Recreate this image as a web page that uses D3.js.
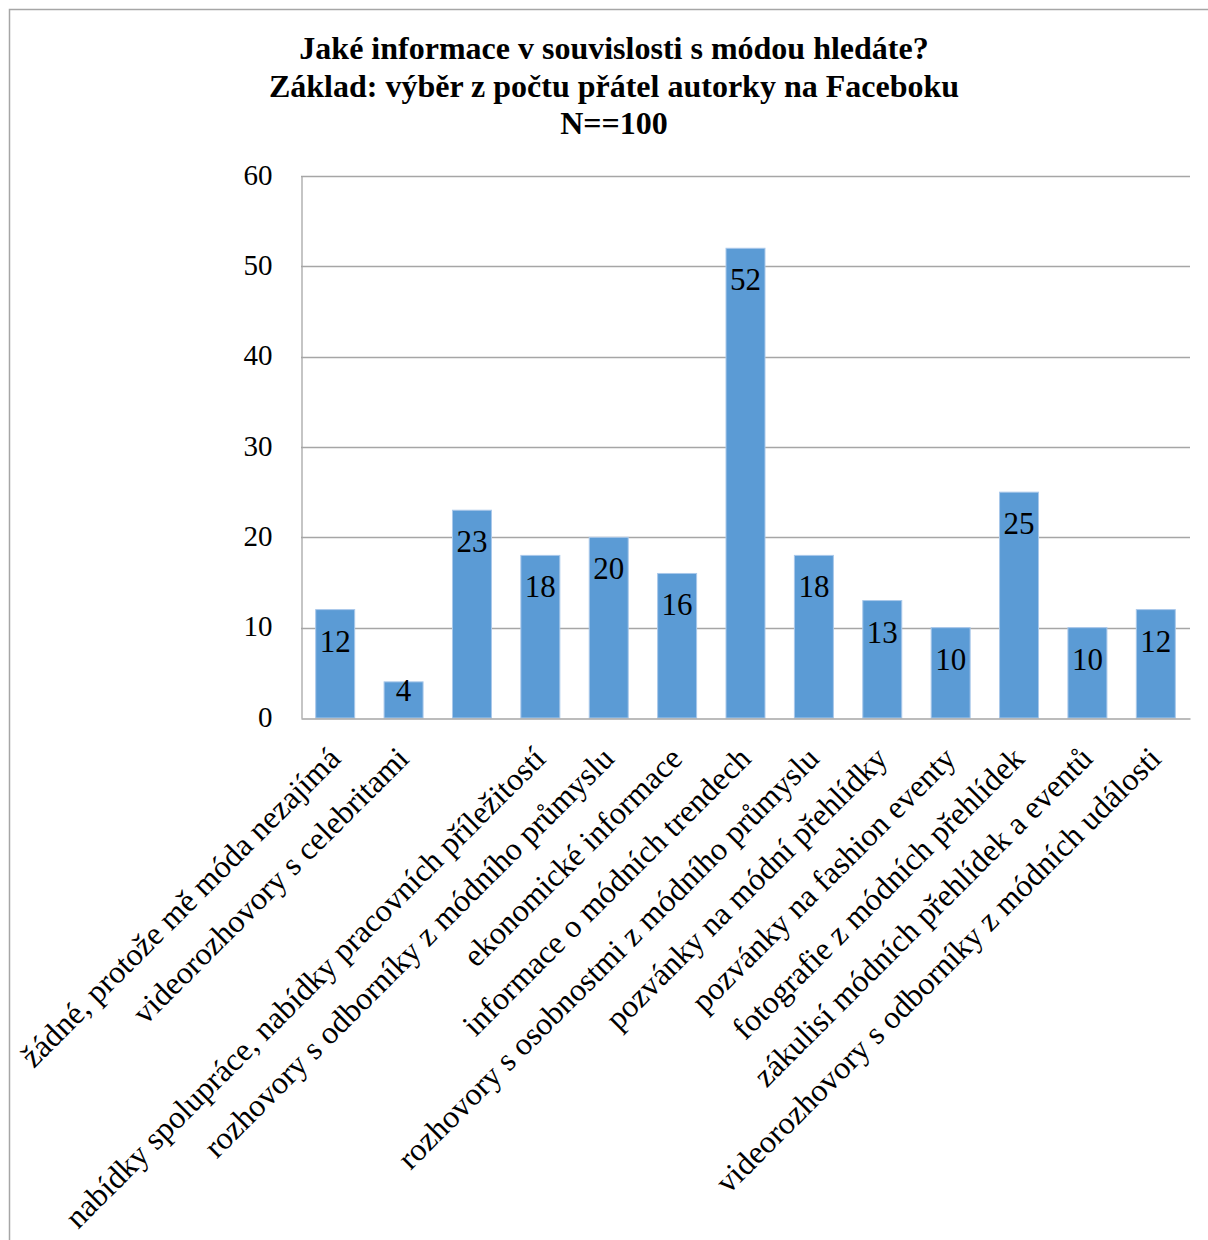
<!DOCTYPE html>
<html>
<head>
<meta charset="utf-8">
<script src="https://cdn.jsdelivr.net/npm/d3@7"></script>
<style>
  html, body { margin: 0; padding: 0; background: #fff; }
  svg { display: block; font-family: "Liberation Serif", "Times New Roman", serif; }
</style>
</head>
<body>
<svg id="chart" width="1208" height="1240"></svg>
<script>
// Survey answers: what fashion-related information respondents look for.
// One entry per bar; the third bar's category label is left blank.
const labels = [
  "žádné, protože mě móda nezajímá",
  "videorozhovory s celebritami",
  "",
  "nabídky spolupráce, nabídky pracovních příležitostí",
  "rozhovory s odborníky z módního průmyslu",
  "ekonomické informace",
  "informace o módních trendech",
  "rozhovory s osobnostmi z módního průmyslu",
  "pozvánky na módní přehlídky",
  "pozvánky na fashion eventy",
  "fotografie z módních přehlídek",
  "zákulisí módních přehlídek a eventů",
  "videorozhovory s odborníky z módních události"
];
const values = [12, 4, 23, 18, 20, 16, 52, 18, 13, 10, 25, 10, 12];
const yTicks = [0, 10, 20, 30, 40, 50, 60];
const titleLines = [
  "Jaké informace v souvislosti s módou hledáte?",
  "Základ: výběr z počtu přátel autorky na Faceboku",
  "N==100"
];

const svg = d3.select("#chart");
const plot = { left: 301, right: 1190, top: 176, bottom: 718 };
const serif = "Liberation Serif, Times New Roman, serif";

// chart frame
svg.append("rect")
  .attr("x", 9.5).attr("y", 9.5)
  .attr("width", 1230).attr("height", 1260)
  .attr("fill", "none").attr("stroke", "#a6a6a6").attr("stroke-width", 1.5);

// title
svg.append("g").selectAll("text")
  .data(titleLines).join("text")
  .attr("x", 614).attr("y", (d, i) => 59 + i * 37.5)
  .attr("text-anchor", "middle")
  .attr("font-size", 32).attr("font-weight", "bold")
  .attr("fill", "#000")
  .text(d => d);

const idx = d3.range(values.length);
const x = d3.scaleBand().domain(idx).range([plot.left, plot.right]).paddingInner(0.43).paddingOuter(0.215);
const y = d3.scaleLinear().domain([0, 60]).range([plot.bottom, plot.top]);

// horizontal gridlines
svg.append("g").selectAll("line")
  .data(yTicks.filter(t => t > 0)).join("line")
  .attr("x1", plot.left).attr("x2", plot.right)
  .attr("y1", d => Math.round(y(d)) + 0.5).attr("y2", d => Math.round(y(d)) + 0.5)
  .attr("stroke", "#a6a6a6").attr("stroke-width", 1.3);

// y axis
const yAxis = svg.append("g")
  .attr("transform", `translate(${plot.left + 0.5},0)`)
  .call(d3.axisLeft(y).tickValues(yTicks).tickSize(0).tickPadding(29));
yAxis.select(".domain").attr("stroke", "#a6a6a6").attr("stroke-width", 1.3);
yAxis.selectAll("text")
  .attr("font-family", serif)
  .attr("font-size", 29).attr("fill", "#000")
  .attr("dy", "0.28em");

// bars
svg.append("g").selectAll("rect")
  .data(values).join("rect")
  .attr("x", (d, i) => x(i))
  .attr("y", d => y(d))
  .attr("width", x.bandwidth())
  .attr("height", d => y(0) - y(d))
  .attr("fill", "#5b9bd5")
  .attr("stroke", "#a9c8ea").attr("stroke-width", 1);

// value labels inside the top of each bar (kept above the axis for short bars)
svg.append("g").selectAll("text")
  .data(values).join("text")
  .attr("x", (d, i) => x(i) + x.bandwidth() / 2)
  .attr("y", d => Math.min(y(d) + 42, y(0) - 17))
  .attr("text-anchor", "middle")
  .attr("font-size", 31).attr("fill", "#000")
  .text(d => d);

// x axis with slanted category labels
const xAxis = svg.append("g")
  .attr("transform", `translate(0,${plot.bottom + 0.5})`)
  .call(d3.axisBottom(x).tickSize(0).tickFormat(i => labels[i]));
xAxis.select(".domain").attr("stroke", "#a6a6a6").attr("stroke-width", 1.3);
xAxis.selectAll("text")
  .attr("font-family", serif)
  .attr("font-size", 32).attr("fill", "#000")
  .attr("text-anchor", "end")
  .attr("dy", null).attr("y", 0)
  .attr("transform", "translate(7,42) rotate(-45)");
</script>
</body>
</html>
